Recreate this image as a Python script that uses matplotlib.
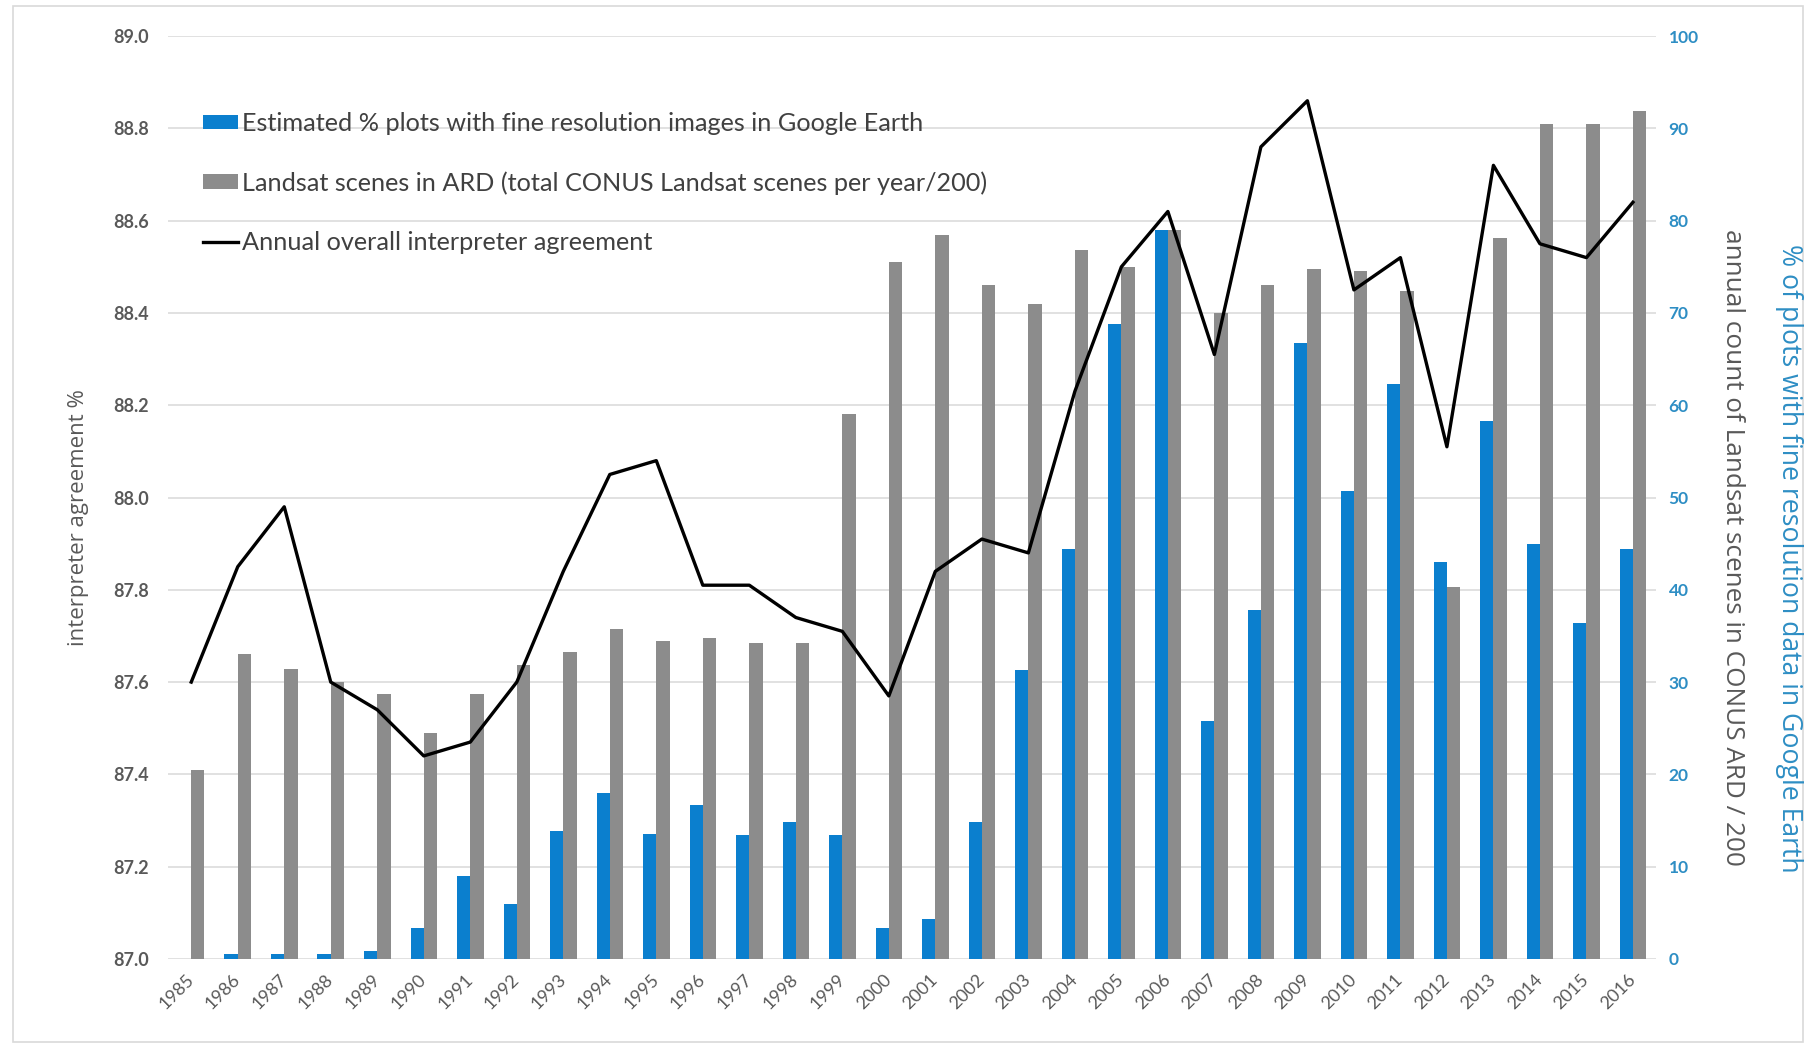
import numpy as np
import matplotlib
matplotlib.use("Agg")
import matplotlib.pyplot as plt
from matplotlib.patches import Rectangle

plt.rcParams['font.family'] = ['Lato', 'DejaVu Sans']

# annual values 1985-2016
years = list(range(1985, 2017))
google_earth_pct = [0, 0.5, 0.5, 0.5, 0.9, 3.4, 9.0, 6.0, 13.9, 18.0,
                    13.5, 16.7, 13.4, 14.8, 13.4, 3.3, 4.3, 14.8, 31.3, 44.4,
                    68.8, 79.0, 25.8, 37.8, 66.8, 50.7, 62.3, 43.0, 58.3, 45.0,
                    36.4, 44.4]
landsat_scenes = [20.5, 33.0, 31.4, 30.0, 28.7, 24.5, 28.7, 31.8, 33.3, 35.7,
                  34.5, 34.8, 34.2, 34.2, 59.0, 75.5, 78.5, 73.0, 71.0, 76.8,
                  75.0, 79.0, 70.0, 73.0, 74.8, 74.6, 72.4, 40.3, 78.1, 90.5,
                  90.5, 91.9]
agreement = [87.60, 87.85, 87.98, 87.60, 87.54, 87.44, 87.47, 87.60, 87.84, 88.05,
             88.08, 87.81, 87.81, 87.74, 87.71, 87.57, 87.84, 87.91, 87.88, 88.23,
             88.50, 88.62, 88.31, 88.76, 88.86, 88.45, 88.52, 88.11, 88.72, 88.55,
             88.52, 88.64]

left_ticks = np.arange(87.0, 89.01, 0.2)
right_ticks = np.arange(0, 101, 10)

BLUE = '#0b7fce'
GRAY = '#8c8c8c'
TEXT = '#595959'
LABEL_BLUE = '#2e8ec4'
WIDE = ['Open Sans', 'DejaVu Sans']

fig = plt.figure(figsize=(18.16, 10.48), dpi=100)
fig.patches.append(Rectangle((0.007, 0.006), 0.986, 0.988, transform=fig.transFigure,
                             fill=False, edgecolor='#d9d9d9', linewidth=1.2))

ax2 = fig.add_axes([0.0925, 0.085, 0.8195, 0.8805])
ax = ax2.twinx()
ax.set_zorder(ax2.get_zorder() + 1)
ax.patch.set_visible(False)

x = np.arange(len(years))
w = 0.285
b1 = ax2.bar(x - w / 2, google_earth_pct, width=w, color=BLUE, zorder=2,
             label='Estimated % plots with fine resolution images in Google Earth')
b2 = ax2.bar(x + w / 2, landsat_scenes, width=w, color=GRAY, zorder=2,
             label='Landsat scenes in ARD (total CONUS Landsat scenes per year/200)')
ln, = ax.plot(x, agreement, color='black', linewidth=2.4,
              label='Annual overall interpreter agreement')

ax2.set_xlim(-0.5, len(years) - 0.5)
ax2.set_ylim(0, 100)
ax.set_ylim(87.0, 89.0)

# bars/gridlines live on ax2, which sits under the line axes
ax2.set_yticks(right_ticks)
ax2.yaxis.tick_right()
ax2.yaxis.grid(True, color='#dcdcdc', linewidth=1.2, zorder=0)
ax2.set_axisbelow(True)
ax2.tick_params(axis='y', length=0, pad=9, labelsize=12.5, labelcolor=LABEL_BLUE)
ax2.set_yticklabels([str(int(t)) for t in right_ticks], fontweight='bold')

ax.set_yticks(left_ticks)
ax.yaxis.tick_left()
ax.set_yticklabels([f'{t:.1f}' for t in left_ticks], fontweight='bold')
ax.tick_params(axis='y', length=0, pad=14, labelsize=13, labelcolor=TEXT)

ax2.set_xticks(x)
ax2.set_xticklabels([str(y) for y in years], rotation=45, ha='right',
                    va='center', rotation_mode='anchor', fontsize=13, color=TEXT)
ax2.tick_params(axis='x', length=0, pad=13)

for a in (ax, ax2):
    for s in a.spines.values():
        s.set_visible(False)

fig.text(0.043, 0.506, 'interpreter agreement %', rotation=90, ha='center', va='center',
         fontsize=16, color=TEXT, family=WIDE)
fig.text(0.954, 0.478, 'annual count of Landsat scenes in CONUS ARD / 200', rotation=-90,
         ha='center', va='center', fontsize=18.8, color=TEXT, family=WIDE)
fig.text(0.985, 0.467, '% of plots with fine resolution data in Google Earth', rotation=-90,
         ha='center', va='center', fontsize=19.2, color=LABEL_BLUE, family=WIDE)

ax.legend(handles=[b1, b2, ln], loc='upper left', bbox_to_anchor=(0.0235, 0.918),
          frameon=False, fontsize=18.2, labelcolor='#404040', handlelength=1.4,
          handleheight=0.5, handletextpad=0.15, labelspacing=1.43,
          borderaxespad=0, borderpad=0)

fig.savefig('out.png', dpi=100, facecolor='white')
